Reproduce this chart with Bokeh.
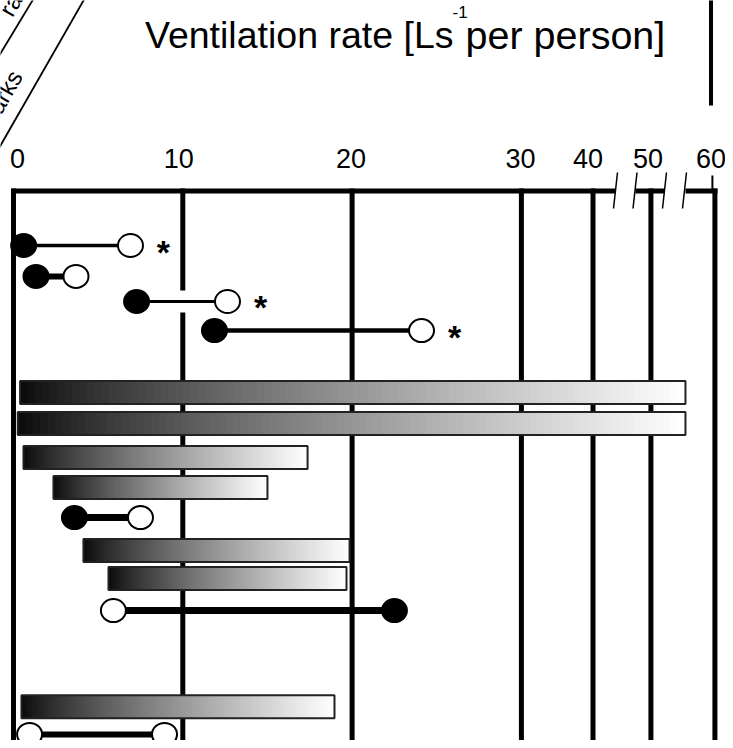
import numpy as np
from bokeh.plotting import figure
from bokeh.models import Range1d, ColumnDataSource
from bokeh.core.properties import value
from bokeh.embed import file_html
from bokeh.resources import INLINE

# ---------------- data ----------------
tick_values = [0, 10, 20, 30, 40, 50, 60]
tick_labels = ["0", "10", "20", "30", "40", "50", "60"]

# paired observations (dumbbells): row position, start value, end value
pair_rows = [0.0, 1.01, 1.83, 2.78, 8.89, 11.93, 15.98]
pair_start = [0.6, 1.33, 7.27, 11.87, 3.6, 5.9, 0.95]
pair_end = [6.91, 3.69, 12.64, 24.1, 7.5, 22.5, 8.92]
pair_start_filled = [True, True, True, True, True, False, False]
pair_end_filled = [False, False, False, False, False, True, False]
pair_significant = [True, False, True, True, False, False, False]

# ranges (gradient bars): row position, low value, high value
range_rows = [4.8, 5.82, 6.93, 7.91, 9.97, 10.88, 15.07]
range_low = [0.39, 0.25, 0.59, 2.36, 4.13, 5.61, 0.47]
range_high = [55.4, 55.4, 17.37, 15.0, 19.85, 19.67, 18.96]

title_main = "Ventilation rate [Ls"
title_sup = "-1"
title_tail = "per person]"
header_rate_lines = ["Ventilation", "rate"]
header_remarks = "Remarks"

# ---------------- styles / layout ----------------
pair_line_widths = [3.5, 6, 3, 4.5, 7, 7, 6]
pair_white_band = [False, False, True, False, False, False, False]
tick_label_nudge = [4, -4, -1, -1, -5, -3, -4]   # px

FONT = value("Liberation Sans")
W, H = 725, 740
PX_X = 16.93      # px per unit on the linear part
X0 = 13.0         # pixel of value 0
ROW_PX = 30.6
Y0 = 245.0
BASE_K = 0.35     # renderer places the baseline this many em lower

# broken axis: 0-30 linear, then compressed decades
BREAK_VALS = [0, 30, 40, 50, 60]
BREAK_POS = [0, 30, 34.23, 37.65, 41.43]


def bx(v):
    return np.interp(np.asarray(v, dtype=float), BREAK_VALS, BREAK_POS)


def ux(px):
    return (px - X0) / PX_X


def ry(py):
    return (py - Y0) / ROW_PX


p = figure(width=W, height=H,
           x_range=Range1d(ux(0), ux(W)),
           y_range=Range1d(ry(H), ry(0)),
           output_backend="svg", toolbar_location=None,
           x_axis_location=None, y_axis_location=None,
           min_border=0)
p.grid.visible = False
p.outline_line_color = None
p.background_fill_color = "white"
p.border_fill_color = "white"

# ---- header (cropped table header) ----
p.segment(x0=[ux(-8), ux(-8)], y0=[ry(66.2), ry(159)],
          x1=[ux(36.8), ux(87.6)], y1=[ry(-8), ry(-8)],
          line_color="black", line_width=1.8)
hs = 24
dx_b, dy_b = BASE_K * hs * 0.866, BASE_K * hs * 0.5
lh = 28  # line spacing, along the up direction of the rotated text
# "rate" (second line) starts near line 1; "Ventilation" one line above
rx0, ry0 = 12.0, 17.6
p.text(x=[ux(rx0 - lh * 0.866 - 95 * 0.5 - dx_b), ux(rx0 - dx_b)],
       y=[ry(ry0 - lh * 0.5 + 95 * 0.866 - dy_b), ry(ry0 - dy_b)],
       text=header_rate_lines,
       angle=np.pi / 3, text_align="left", text_baseline="alphabetic",
       text_font=FONT, text_font_size="%dpx" % hs, text_color="black")
p.text(x=[ux(23 - dx_b)], y=[ry(76 - dy_b)], text=[header_remarks],
       angle=np.pi / 3, text_align="right", text_baseline="alphabetic",
       text_font=FONT, text_font_size="%dpx" % hs, text_color="black")
p.segment(x0=[ux(710.5)], y0=[ry(-10)], x1=[ux(710.5)], y1=[ry(105)],
          line_color="black", line_width=4)

# title with superscript
p.text(x=[ux(453)], y=[ry(48 - BASE_K * 37.5)], text=[title_main],
       text_align="right", text_baseline="alphabetic", text_font=FONT,
       text_font_size="37.5px", text_color="black")
p.text(x=[ux(452)], y=[ry(17 - BASE_K * 17)], text=[title_sup],
       text_align="left", text_baseline="alphabetic", text_font=FONT,
       text_font_size="17px", text_color="black")
p.text(x=[ux(465)], y=[ry(48 - BASE_K * 39.5)], text=[title_tail],
       text_align="left", text_baseline="alphabetic", text_font=FONT,
       text_font_size="39.5px", text_color="black")

# ---- axis: tick labels, frame, grid lines ----
tick_pos = bx(tick_values)
lab_src = ColumnDataSource(dict(x=tick_pos,
                                y=[ry(167 - BASE_K * 27)] * len(tick_pos),
                                text=tick_labels, dx=tick_label_nudge))
p.text(x="x", y="y", text="text", x_offset="dx", source=lab_src,
       text_align="center", text_baseline="alphabetic",
       text_font=FONT, text_font_size="27px", text_color="black")

p.segment(x0=tick_pos, y0=[ry(188)] * len(tick_pos),
          x1=tick_pos, y1=[ry(760)] * len(tick_pos),
          line_color="black", line_width=5)
# small tick above the last value
p.segment(x0=[bx(60) - 2.5 / PX_X], y0=[ry(175)],
          x1=[bx(60) - 2.5 / PX_X], y1=[ry(191)],
          line_color="black", line_width=2)

# top frame line, broken at the scale breaks
seg_l = [ux(11), ux(635), ux(685)]
seg_r = [ux(615), ux(664), ux(717)]
p.segment(x0=seg_l, y0=[ry(190.5)] * 3, x1=seg_r, y1=[ry(190.5)] * 3,
          line_color="black", line_width=5)
slash_x = [615, 634.5, 664, 684]
p.segment(x0=[ux(s + 2) for s in slash_x], y0=[ry(172)] * 4,
          x1=[ux(s - 2) for s in slash_x], y1=[ry(208)] * 4,
          line_color="black", line_width=1.5)

# ---- paired observations ----
ps = bx(pair_start)
pe = bx(pair_end)
for i in range(len(pair_rows)):
    if pair_white_band[i]:
        p.segment(x0=[ps[i]], y0=[pair_rows[i]], x1=[pe[i]], y1=[pair_rows[i]],
                  line_color="white", line_width=22)
    p.segment(x0=[ps[i]], y0=[pair_rows[i]], x1=[pe[i]], y1=[pair_rows[i]],
              line_color="black", line_width=pair_line_widths[i])

mx = list(ps) + list(pe)
my = list(pair_rows) + list(pair_rows)
mf = ["black" if f else "white" for f in pair_start_filled + pair_end_filled]
p.ellipse(x=mx, y=my, width=25, height=23, width_units="screen",
          height_units="screen", fill_color=mf, line_color="black",
          line_width=2)

sx = [pe[i] for i in range(len(pair_rows)) if pair_significant[i]]
sy = [pair_rows[i] for i in range(len(pair_rows)) if pair_significant[i]]
p.text(x=sx, y=sy, text=["*"] * len(sx), x_offset=33, y_offset=6,
       text_align="center", text_baseline="alphabetic",
       text_font=FONT, text_font_size="34px", text_font_style="bold",
       text_color="black")

# ---- gradient range bars ----
N = 90
half_h = 11.5 / ROW_PX
gl, gr, gt, gb, gc = [], [], [], [], []
lo = bx(range_low)
hi = bx(range_high)
for r, a, b in zip(range_rows, lo, hi):
    edges = np.linspace(a, b, N + 1)
    step = (b - a) / N
    for k in range(N):
        t = (k + 0.5) / N
        g = int(round(255 * min(1.0, 0.03 + 0.97 * t ** 0.8)))
        gl.append(edges[k])
        gr.append(min(b, edges[k + 1] + step * 0.6))
        gt.append(r - half_h)
        gb.append(r + half_h)
        gc.append("#%02x%02x%02x" % (g, g, g))
p.quad(left=gl, right=gr, top=gt, bottom=gb, fill_color=gc, line_color=None)
p.quad(left=lo, right=hi, top=[r - half_h for r in range_rows],
       bottom=[r + half_h for r in range_rows], fill_color=None,
       line_color="#222222", line_width=2)

open("out.html", "w").write(file_html(p, INLINE))
